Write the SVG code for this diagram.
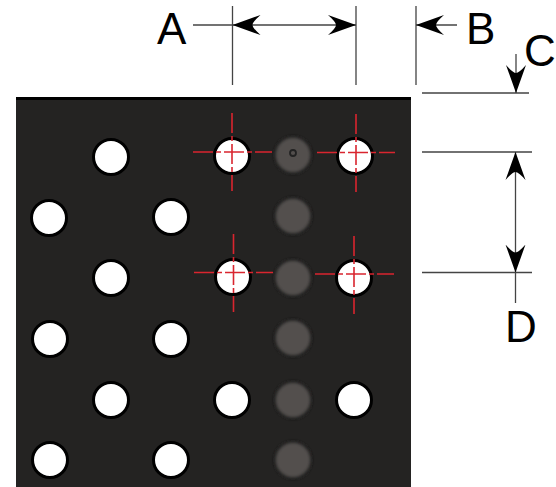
<svg xmlns="http://www.w3.org/2000/svg" width="556" height="487" viewBox="0 0 556 487">
<style>
.h{fill:#fff;stroke:#000;stroke-width:3}
.g{fill:#52504e;stroke:#1c1c1c;stroke-width:2;filter:url(#b)}
.x{stroke:#d9252f;stroke-width:1.6;stroke-dasharray:20 3 5 3;fill:none}
.d{stroke:#444;stroke-width:1.3;fill:none}
.t{font-family:"Liberation Sans",Arial,sans-serif;font-size:44px;fill:#000}
</style>
<defs>
<filter id="b" x="-30%" y="-30%" width="160%" height="160%"><feGaussianBlur stdDeviation="1.6"/></filter>
<marker id="ah" markerUnits="userSpaceOnUse" markerWidth="30" markerHeight="24" refX="28" refY="11" orient="auto-start-reverse"><path d="M28 11 L0 1 Q8 8 8 11 Q8 14 0 21 Z" fill="#000"/></marker>
</defs>
<g id="plate">
<rect x="16" y="97" width="395" height="390" fill="#242322"/>
<rect x="16" y="97" width="395" height="3" fill="#000"/>
</g>
<g id="holes">
<circle class="h" cx="111" cy="157" r="17.500"/><circle class="h" cx="232" cy="156" r="17.500"/><circle class="h" cx="355" cy="156" r="17.500"/>
<circle class="h" cx="49" cy="218" r="17.500"/><circle class="h" cx="171" cy="217" r="17.500"/>
<circle class="h" cx="111" cy="278" r="17.500"/><circle class="h" cx="233" cy="277" r="17.500"/><circle class="h" cx="354" cy="278" r="17.500"/>
<circle class="h" cx="50" cy="339" r="17.500"/><circle class="h" cx="171" cy="339" r="17.500"/>
<circle class="h" cx="111" cy="400" r="17.500"/><circle class="h" cx="232" cy="400" r="17.500"/><circle class="h" cx="354" cy="400" r="17.500"/>
<circle class="h" cx="50" cy="460" r="17.500"/><circle class="h" cx="171" cy="460" r="17.500"/>
</g>
<g id="blind-holes">
<circle class="g" cx="293" cy="155" r="18"/><circle class="g" cx="293" cy="216" r="18"/><circle class="g" cx="293" cy="278" r="18"/>
<circle class="g" cx="293" cy="338" r="18"/><circle class="g" cx="293" cy="400" r="18"/><circle class="g" cx="293" cy="460" r="18"/>
<circle cx="293" cy="153" r="3" fill="none" stroke="#222" stroke-width="1.800"/>
</g>
<g id="crosshairs">
<path class="x" d="M193 152H272M232 113V191"/>
<path class="x" d="M317 152.500H395M356 114V192"/>
<path class="x" d="M194 272.500H273M233.500 234V312"/>
<path class="x" d="M315 274H394M354 236V314"/>
</g>
<g id="connectors">
<path class="d" d="M232.500 6V85M356 6V85M416 6V85M422 93H529M422 152H532M422 272.500H532"/>
<path class="d" d="M193 25H232.500"/>
<path class="d" d="M232.500 25H356" marker-start="url(#ah)" marker-end="url(#ah)"/>
<path class="d" d="M457 25H416" marker-end="url(#ah)"/>
<path class="d" d="M516 54V93" marker-end="url(#ah)"/>
<path class="d" d="M515.500 152V272.500" marker-start="url(#ah)" marker-end="url(#ah)"/>
<path class="d" d="M515.500 272.500V303"/>
</g>
<g id="labels">
<text class="t" x="157" y="44">A</text>
<text class="t" x="466" y="44">B</text>
<text class="t" x="524" y="66">C</text>
<text class="t" x="505" y="342">D</text>
</g>
</svg>
